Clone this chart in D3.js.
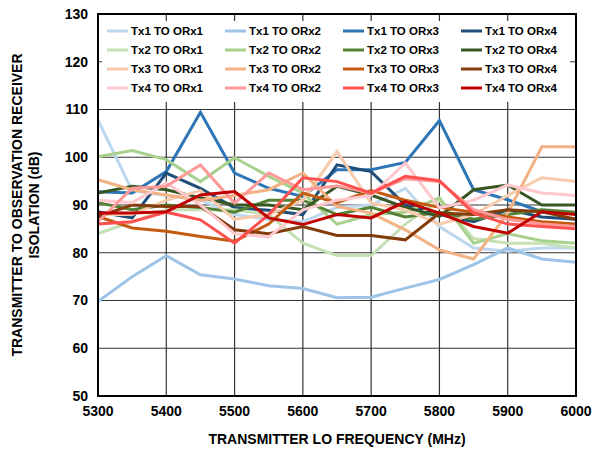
<!DOCTYPE html>
<html>
<head>
<meta charset="UTF-8">
<script src="https://d3js.org/d3.v7.min.js"></script>
<style>
  body { margin: 0; background: #fff; }
  svg text { font-family: "Liberation Sans", Arial, sans-serif; font-weight: bold; fill: #000; }
</style>
</head>
<body>
<div id="chart"></div>
<script>
// frequencies (MHz)
const freqs = d3.range(5300, 6001, 50);
const xTicks = [5300, 5400, 5500, 5600, 5700, 5800, 5900, 6000];
const yTicks = [50, 60, 70, 80, 90, 100, 110, 120, 130];

// series names and colours
const names = [
  "Tx1 TO ORx1", "Tx1 TO ORx2", "Tx1 TO ORx3", "Tx1 TO ORx4",
  "Tx2 TO ORx1", "Tx2 TO ORx2", "Tx2 TO ORx3", "Tx2 TO ORx4",
  "Tx3 TO ORx1", "Tx3 TO ORx2", "Tx3 TO ORx3", "Tx3 TO ORx4",
  "Tx4 TO ORx1", "Tx4 TO ORx2", "Tx4 TO ORx3", "Tx4 TO ORx4"
];
const colors = [
  "#bdd7ee", "#9dc3e6", "#2e75b6", "#1f4e79",
  "#c5e0b4", "#a9d18e", "#548235", "#385723",
  "#f8cbad", "#f4b183", "#c55a11", "#843c0c",
  "#ffc7ce", "#ff9999", "#ff5050", "#c00000"
];

// isolation values (dB), one per frequency
const tx1orx1 = [107.8, 93, 92, 91, 88, 87, 86.5, 89.5, 90, 93.5, 85.5, 81, 80.3, 81, 81];
const tx1orx2 = [69.8, 75, 79.4, 75.4, 74.5, 73.1, 72.5, 70.6, 70.7, 72.6, 74.4, 77.5, 81, 78.7, 78];
const tx1orx3 = [92.8, 92.5, 97, 109.4, 96.7, 93.5, 91.8, 97.4, 97.4, 98.9, 107.7, 93.2, 91.1, 88.6, 88.4];
const tx1orx4 = [88.6, 87.3, 96.7, 93.5, 89.4, 88.9, 88, 98.4, 97, 90, 88, 86.5, 89, 87.5, 87];
const tx2orx1 = [84, 86.5, 89, 89, 89, 88, 82, 79.4, 79.4, 86, 91, 83, 82, 82, 81];
const tx2orx2 = [100.1, 101.4, 99.5, 94.9, 99.9, 96, 92.5, 86, 88, 88.5, 91.5, 82, 84, 82.5, 82];
const tx2orx3 = [90.5, 89, 90, 89.5, 88.5, 91, 91, 88, 89.5, 87.5, 88.5, 87, 88, 89, 88.5];
const tx2orx4 = [92.5, 93.9, 93.2, 91.5, 90, 90, 89, 93.9, 92.1, 89.5, 87.6, 93.2, 94.2, 90, 90];
const tx3orx1 = [88, 88, 91, 93, 87, 88, 91, 101.2, 90.4, 89, 86, 88, 92, 95.7, 94.9];
const tx3orx2 = [95.3, 93.2, 92.1, 91, 92, 93.2, 96.7, 89.7, 88.3, 84.8, 80.6, 78.7, 88.3, 102.2, 102.2];
const tx3orx3 = [87.6, 85.2, 84.5, 83.4, 82.4, 86, 92.5, 90.5, 93, 91, 89.5, 88.5, 87.5, 86.5, 86];
const tx3orx4 = [87.6, 90, 89.7, 89.7, 84.8, 84, 85.5, 83.6, 83.6, 82.7, 88.3, 88, 89, 88.6, 87];
const tx4orx1 = [91, 90.5, 94.6, 90, 84, 83.3, 89, 91, 92, 98.8, 89.4, 91, 94.2, 92.5, 92];
const tx4orx2 = [86.5, 93.5, 93.9, 98.4, 90.4, 96.7, 93.2, 94, 92.5, 95.5, 94.9, 89, 87, 86, 85.5];
const tx4orx3 = [86, 86.5, 88.5, 86.9, 82, 88, 95.7, 94.9, 92.5, 96, 95.1, 88.3, 86, 85.5, 85];
const tx4orx4 = [88.3, 88.3, 88.6, 92.1, 92.8, 87.3, 85.9, 88, 87.3, 90.7, 88.3, 85.5, 84.1, 88.6, 88];

const values = [
  tx1orx1, tx1orx2, tx1orx3, tx1orx4,
  tx2orx1, tx2orx2, tx2orx3, tx2orx4,
  tx3orx1, tx3orx2, tx3orx3, tx3orx4,
  tx4orx1, tx4orx2, tx4orx3, tx4orx4
];

const series = names.map((n, i) => ({
  name: n, color: colors[i],
  points: freqs.map((f, j) => ({ f, v: values[i][j] }))
}));

const W = 596, H = 453;
const margin = { top: 14, right: 20, bottom: 57, left: 98 };
const width = W - margin.left - margin.right,
      height = H - margin.top - margin.bottom;

const svg = d3.select("#chart").append("svg")
  .attr("width", W).attr("height", H);
const g = svg.append("g").attr("transform", `translate(${margin.left},${margin.top})`);

const x = d3.scaleLinear().domain([5300, 6000]).range([0, width]);
const y = d3.scaleLinear().domain([50, 130]).range([height, 0]);

// gridlines
g.append("g").selectAll("line").data(xTicks).enter().append("line")
  .attr("x1", d => x(d)).attr("x2", d => x(d))
  .attr("y1", 0).attr("y2", height)
  .attr("stroke", "#333").attr("stroke-width", 1.2);
g.append("g").selectAll("line").data(yTicks).enter().append("line")
  .attr("x1", 0).attr("x2", width)
  .attr("y1", d => y(d)).attr("y2", d => y(d))
  .attr("stroke", "#333").attr("stroke-width", 1.2);

// lines
const line = d3.line().x(d => x(d.f)).y(d => y(d.v));
g.append("g").selectAll("path").data(series).enter().append("path")
  .attr("d", d => line(d.points))
  .attr("fill", "none")
  .attr("stroke", d => d.color)
  .attr("stroke-width", 3)
  .attr("stroke-linejoin", "miter");

// legend (white box over the grid)
const legend = g.append("g");
legend.append("rect")
  .attr("x", 4).attr("y", 7).attr("width", width - 10).attr("height", 81)
  .attr("fill", "#fff");
series.forEach((s, i) => {
  const col = i % 4, row = Math.floor(i / 4);
  const lx = 9 + col * 118, ly = 17 + row * 19;
  legend.append("line")
    .attr("x1", lx).attr("x2", lx + 21)
    .attr("y1", ly).attr("y2", ly)
    .attr("stroke", s.color).attr("stroke-width", 3);
  legend.append("text")
    .attr("x", lx + 24).attr("y", ly).attr("dy", "0.35em")
    .style("font-size", "11.5px")
    .text(s.name);
});

// frame
g.append("rect").attr("width", width).attr("height", height)
  .attr("fill", "none").attr("stroke", "#000").attr("stroke-width", 2);

// axes labels
g.append("g").selectAll("text").data(yTicks).enter().append("text")
  .attr("x", -10).attr("y", d => y(d)).attr("dy", "0.35em")
  .attr("text-anchor", "end").style("font-size", "14px")
  .text(d => d);
g.append("g").selectAll("text").data(xTicks).enter().append("text")
  .attr("x", d => x(d)).attr("y", height + 20)
  .attr("text-anchor", "middle").style("font-size", "14px")
  .text(d => d);

svg.append("text")
  .attr("x", margin.left + width / 2).attr("y", 444)
  .attr("text-anchor", "middle").style("font-size", "14px")
  .text("TRANSMITTER LO FREQUENCY (MHz)");

const yt = svg.append("text")
  .attr("transform", `translate(22,${margin.top + height / 2}) rotate(-90)`)
  .attr("text-anchor", "middle").style("font-size", "14px");
yt.append("tspan").attr("x", 0).attr("dy", 0).text("TRANSMITTER TO OBSERVATION RECEIVER");
yt.append("tspan").attr("x", 0).attr("dy", "1.2em").text("ISOLATION (dB)");
</script>
</body>
</html>
